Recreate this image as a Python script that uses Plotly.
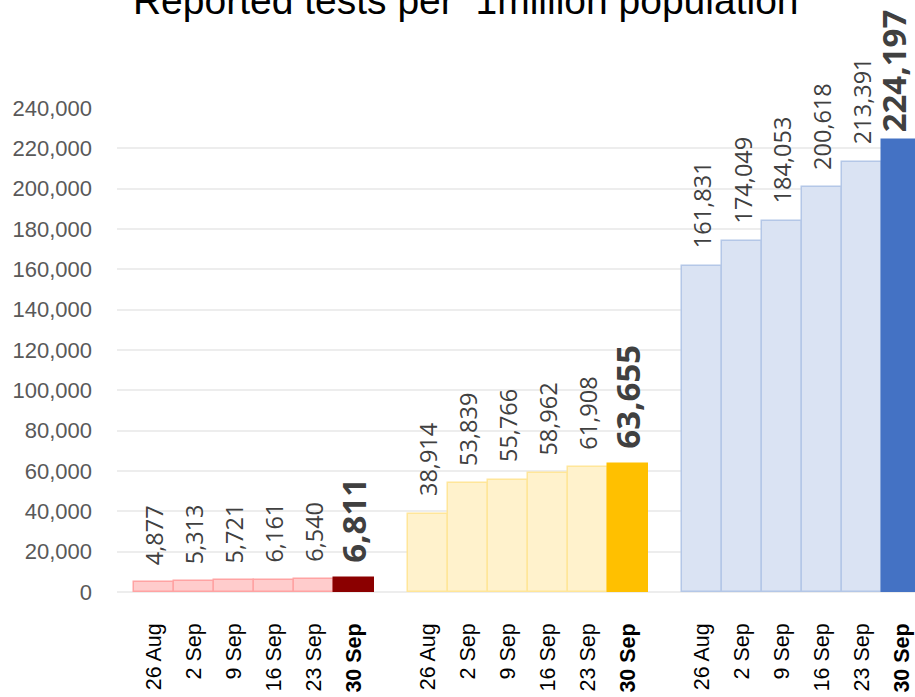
import plotly.graph_objects as go

dates = ["26 Aug", "2 Sep", "9 Sep", "16 Sep", "23 Sep", "30 Sep"]
group1 = [4877, 5313, 5721, 6161, 6540, 6811]
group2 = [38914, 53839, 55766, 58962, 61908, 63655]
group3 = [161831, 174049, 184053, 200618, 213391, 224197]
groups = [group1, group2, group3]

light_fill = ["#FFCCCC", "#FFF2CC", "#DAE3F3"]
light_line = ["#FFA3A3", "#FFE699", "#B4C7E7"]
dark_fill = ["#8B0000", "#FFC000", "#4472C4"]

GAP = 0.85  # spacing between groups, in bar widths
n = len(dates)

fig = go.Figure()
tickvals, ticktext = [], []
annotations = []
for g, vals in enumerate(groups):
    xs = [g * (n + GAP) + i for i in range(n)]
    fills = [light_fill[g]] * (n - 1) + [dark_fill[g]]
    lines = [light_line[g]] * (n - 1) + [dark_fill[g]]
    fig.add_trace(go.Bar(
        x=xs, y=vals, width=1.0,
        marker=dict(color=fills, line=dict(color=lines, width=1.5)),
        showlegend=False, hoverinfo="x+y",
    ))
    for i, (x, v) in enumerate(zip(xs, vals)):
        last = i == n - 1
        edge = last and g == len(groups) - 1
        tickvals.append(x)
        ticktext.append(f"<b>{dates[i]}</b>" if last else dates[i])
        annotations.append(dict(
            x=x, y=v, xref="x", yref="y",
            text=(f"<b>{v:,}</b>" if last else f"{v:,}"),
            textangle=-90, showarrow=False,
            xanchor="center", yanchor="bottom",
            yshift=(5 if edge else 13) if last else 15,
            xshift=-9 if edge else 0,
            font=dict(family="Open Sans, DejaVu Sans, sans-serif",
                      size=33 if last else 23.5, color="#404040"),
        ))

fig.update_layout(
    width=915, height=697,
    margin=dict(l=117, r=0, t=108, b=105),
    paper_bgcolor="white", plot_bgcolor="white",
    title=dict(text="Reported tests per  1million population",
               x=0.509, xanchor="center", y=1.0, yanchor="middle",
               yref="container",
               font=dict(family="Liberation Sans, Arial, sans-serif", size=39, color="black")),
    bargap=0,
    annotations=annotations,
    xaxis=dict(
        range=[-0.925, 19.025], tickmode="array", tickvals=tickvals, ticktext=ticktext,
        tickangle=-90, showgrid=False, zeroline=False, showline=False, ticks="",
        ticklabelstandoff=26,
        tickfont=dict(family="Liberation Sans, Arial, sans-serif", size=21.5, color="black"),
    ),
    yaxis=dict(
        range=[0, 240000], tickmode="linear", tick0=0, dtick=20000, tickformat=",d",
        showgrid=True, gridcolor="#EDEDED", gridwidth=1.5,
        zeroline=True, zerolinecolor="#EDEDED", zerolinewidth=1.5,
        showline=False, ticks="", ticklabelstandoff=24,
        tickfont=dict(family="Liberation Sans, Arial, sans-serif", size=22, color="#595959"),
    ),
)

fig.write_html("out.html", config={"displayModeBar": False},
               post_script="document.body.style.margin='0';document.body.style.overflow='hidden';")
